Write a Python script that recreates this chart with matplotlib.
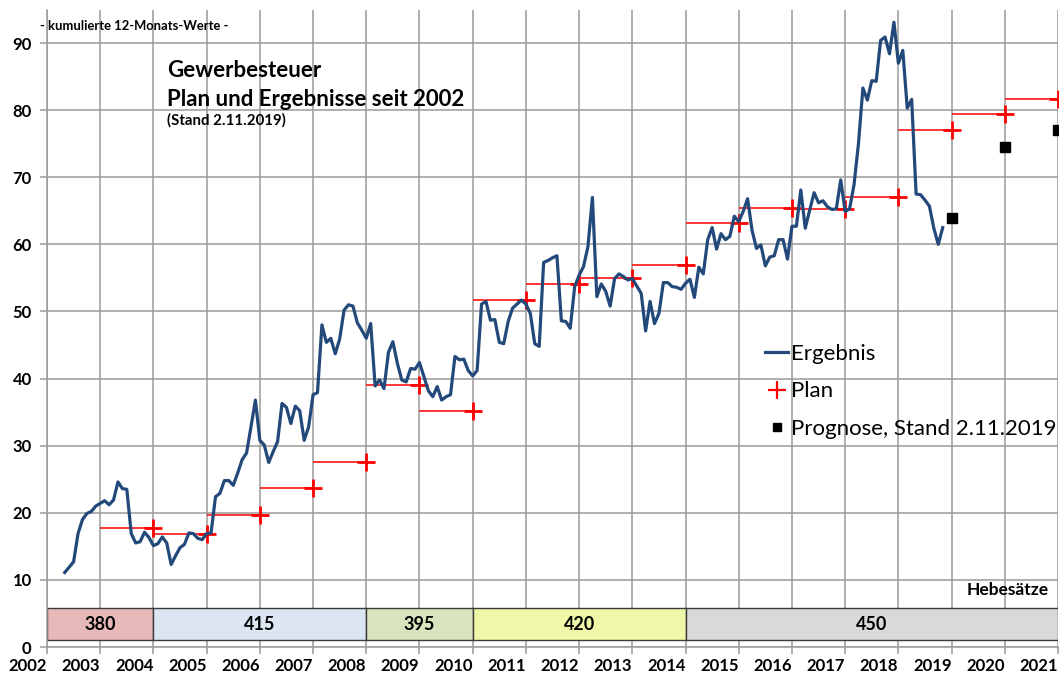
import numpy as np
import matplotlib
matplotlib.use("Agg")
import matplotlib.pyplot as plt
from matplotlib.lines import Line2D

plt.rcParams['font.family'] = ['Lato', 'DejaVu Sans']

# kumulierte 12-Monats-Werte, monatlich
ergebnis = [
    11.1, 11.9, 12.7, 16.9, 19.0, 19.9, 20.2, 21.0, 21.4, 21.8, 21.2, 21.9, 24.6,
    23.6, 23.5, 16.9, 15.5, 15.7, 17.1, 16.3, 15.1, 15.4, 16.4, 15.5, 12.3, 13.6,
    14.8, 15.3, 17.0, 16.9, 16.2, 16.0, 16.9, 17.0, 22.4, 22.9, 24.8, 24.8, 24.1,
    25.9, 27.9, 28.9, 32.8, 36.8, 30.8, 30.1, 27.5, 29.1, 30.6, 36.3, 35.7, 33.3,
    35.9, 35.2, 30.8, 32.8, 37.6, 37.9, 48.0, 45.4, 46.0, 43.7, 45.9, 50.2, 51.0,
    50.8, 48.3, 47.2, 46.0, 48.2, 38.9, 39.8, 38.5, 43.9, 45.5, 42.3, 39.8, 39.5,
    41.5, 41.4, 42.4,
    40.3, 38.2, 37.3, 38.8, 36.8, 37.3, 37.6, 43.3, 42.8, 42.9, 41.2, 40.4, 41.2,
    51.1, 51.5, 48.7, 48.8, 45.4, 45.2, 48.5, 50.5, 51.1, 51.7, 51.1, 49.7, 45.2,
    44.8, 57.3, 57.6, 58.0, 58.3, 48.6, 48.5, 47.5, 53.7, 55.4, 56.7, 59.7, 67.0,
    52.2,
    54.1, 53.0, 50.8, 54.9, 55.6, 55.2, 54.7, 54.9, 53.8, 52.7, 47.1, 51.5, 48.2,
    49.7, 54.3, 54.3, 53.7, 53.6, 53.3, 54.2, 54.8, 52.1, 56.6, 55.6, 60.7, 62.5,
    59.3, 61.6, 60.7, 61.2, 64.2, 63.4, 64.9, 66.8, 62.1, 59.4, 59.9, 56.8, 58.1,
    58.3, 60.7, 60.7, 57.8,
    62.7, 62.7, 68.1, 62.4, 65.1, 67.7, 66.2, 66.5, 65.6, 65.2, 65.3, 69.6, 64.9,
    65.3, 68.9, 75.0, 83.3, 81.5, 84.4, 84.3, 90.4, 90.9, 88.4, 93.1, 87.0, 88.9,
    80.3, 81.6, 67.5, 67.4, 66.6, 65.7, 62.4, 60.0, 62.5,
]
start = 2002 + 4 / 12
monate = start + np.arange(len(ergebnis)) / 12

plan_jahre = list(range(2004, 2022))
plan_werte = [17.7, 16.9, 19.7, 23.7, 27.5, 39.0, 35.1, 51.7, 54.1,
              55.0, 57.0, 63.2, 65.4, 65.2, 67.1, 77.0, 79.4, 81.7]

prognose_jahre = [2019, 2020, 2021]
prognose_werte = [64.0, 74.5, 77.0]

hebe_von = [2002, 2004, 2008, 2010, 2014]
hebe_bis = [2004, 2008, 2010, 2014, 2021]
hebe_satz = ["380", "415", "395", "420", "450"]
hebe_farbe = ["#E6B9B8", "#DCE6F2", "#D7E4BD", "#EFF8A8", "#D9D9D9"]

jahre = list(range(2002, 2022))

W, H = 1059, 679
fig = plt.figure(figsize=(W / 100, H / 100), dpi=100)
ax = fig.add_axes([47 / W, (H - 647) / H, (1058 - 47) / W, (647 - 9.5) / H])
ax.set_xlim(2002, 2021)
ax.set_ylim(0, 95)

gridc = "#9A9A9A"
ax.set_xticks(jahre)
ax.set_xticklabels([str(j) for j in jahre], ha='right')
ax.set_yticks(range(0, 100, 10))
ax.grid(True, color=gridc, lw=1.1, zorder=0)
ax.set_axisbelow(True)
for s in ['top', 'right']:
    ax.spines[s].set_visible(False)
for s in ['left', 'bottom']:
    ax.spines[s].set_color(gridc)
    ax.spines[s].set_linewidth(1.1)
ax.tick_params(axis='both', colors=gridc, length=5, width=1.1)
ax.tick_params(axis='x', pad=3, labelsize=12, labelcolor='black')
ax.tick_params(axis='y', pad=6, labelsize=12, labelcolor='black')
for lab in ax.get_xticklabels() + ax.get_yticklabels():
    lab.set_fontweight('bold')

# Hebesaetze
for v, b, t, c in zip(hebe_von, hebe_bis, hebe_satz, hebe_farbe):
    ax.barh(3.4, b - v, left=v, height=4.8, color=c, edgecolor='#3A3A3A',
            lw=1.0, zorder=2)
    ax.text((v + b) / 2, 3.3, t, ha='center', va='center', fontsize=13,
            fontweight='bold', zorder=3)
ax.text(2020.83, 8.5, "Hebesätze", ha='right', va='center', fontsize=12.5,
        fontweight='bold')

# Plan
for j, w in zip(plan_jahre, plan_werte):
    ax.hlines(w, j - 1, j, color='red', lw=1.1, zorder=3)
ax.plot(plan_jahre, plan_werte, ls='none', marker='+', ms=13, mew=2,
        color='red', zorder=4)

# Ergebnis
ax.plot(monate, ergebnis, color='#22497A', lw=2.3, zorder=5,
        solid_joinstyle='round')

# Prognose
ax.plot(prognose_jahre, prognose_werte, ls='none', marker='s', ms=6.5,
        color='black', zorder=5)

fig.text(40 / W, 1 - 29.5 / H, "- kumulierte 12-Monats-Werte -", fontsize=9.4,
         fontweight='bold', va='baseline')
fig.text(167 / W, 1 - 77 / H, "Gewerbesteuer", fontsize=16, fontweight='bold',
         va='baseline')
fig.text(167 / W, 1 - 106 / H, "Plan und Ergebnisse seit 2002", fontsize=16,
         fontweight='bold', va='baseline')
fig.text(167 / W, 1 - 125 / H, "(Stand 2.11.2019)", fontsize=10.8,
         fontweight='bold', va='baseline')

handles = [
    Line2D([], [], color='#22497A', lw=2.3),
    Line2D([], [], color='red', ls='none', marker='+', ms=13, mew=1.6),
    Line2D([], [], color='black', ls='none', marker='s', ms=6),
]
labels = ["Ergebnis", "Plan", "Prognose, Stand 2.11.2019"]
fig.legend(handles, labels, loc='upper left',
           bbox_to_anchor=(765 / W, 1 - 344 / H), frameon=False,
           fontsize=16, handlelength=1.05, handletextpad=0.1,
           labelspacing=0.78, borderpad=0, borderaxespad=0)

fig.savefig("out.png", dpi=100)
